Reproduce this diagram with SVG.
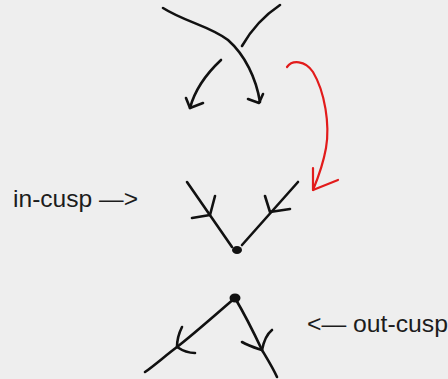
<svg xmlns="http://www.w3.org/2000/svg" width="448" height="379" viewBox="0 0 448 379">
  <style>
    .ink { fill: none; stroke: #111; stroke-width: 2.6; stroke-linecap: round; stroke-linejoin: round; }
    .red { fill: none; stroke: #e21b1b; stroke-width: 2.2; stroke-linecap: round; stroke-linejoin: round; }
    .dot { fill: #111; }
    .label { font-family: "Liberation Sans", Arial, sans-serif; font-size: 24px; fill: #1c1c1c; }
  </style>
  <rect width="448" height="379" fill="#eeeeee"/>

  <!-- strands before the move: two crossing arcs -->
  <g id="crossing">
    <path class="ink" d="M163,8 C185,22 210,26 228,40 C245,55 256,78 260,102"/>
    <path class="ink" d="M248,99 L259,103 L263,94"/>
    <path class="ink" d="M280,5 C262,17 250,32 242,46"/>
    <path class="ink" d="M221,60 C205,75 194,93 190,108"/>
    <path class="ink" d="M186,98 L190,108 L203,103"/>
  </g>

  <!-- transition arrow -->
  <g id="connectors">
    <path class="red" d="M287,67 C292,60 305,60 313,72 C325,92 330,125 326,148 C323,165 318,178 313,190"/>
    <path class="red" d="M313,168 L313,190 L338,180"/>
  </g>

  <!-- in-cusp: both branches arrive at the point -->
  <g id="in-cusp">
    <path class="ink" d="M187,182 L232,247"/>
    <path class="ink" d="M298,182 L242,245"/>
    <path class="ink" d="M215,196 L210,215 L192,218"/>
    <path class="ink" d="M265,196 L270,212 L290,209"/>
    <ellipse class="dot" cx="237" cy="250" rx="5" ry="4"/>
    <text class="label" x="13" y="207" textLength="125" lengthAdjust="spacingAndGlyphs">in-cusp —&gt;</text>
  </g>

  <!-- out-cusp: both branches leave the point -->
  <g id="out-cusp">
    <path class="ink" d="M235,298 C215,315 195,333 177,347 C165,356 155,365 145,372"/>
    <path class="ink" d="M235,298 C245,315 254,333 262,350 C268,360 273,368 277,377"/>
    <path class="ink" d="M182,327 C178,335 177,341 177,347 C183,351 189,353 195,353"/>
    <path class="ink" d="M242,342 C249,346 256,348 262,350 C264,340 267,334 272,330"/>
    <ellipse class="dot" cx="235" cy="298" rx="5.5" ry="4.5"/>
    <text class="label" x="307" y="332" textLength="141" lengthAdjust="spacingAndGlyphs">&lt;— out-cusp</text>
  </g>
</svg>
